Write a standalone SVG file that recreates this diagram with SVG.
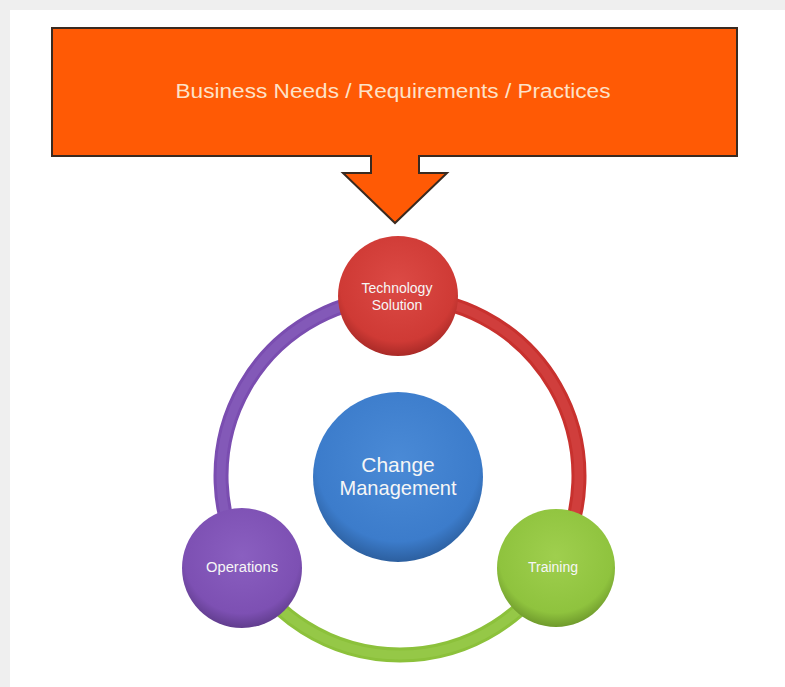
<svg xmlns="http://www.w3.org/2000/svg" width="785" height="687" viewBox="0 0 785 687">
  <style>
    .lbl { font-family: "Liberation Sans", Arial, sans-serif; fill: #f6f6f6; text-anchor: middle; }
    .big { font-size: 21px; }
    .small { font-size: 14px; }
    .title { font-family: "Liberation Sans", Arial, sans-serif; font-size: 20px; fill: #fde2c8; text-anchor: middle; }
    .ring { fill: none; stroke-width: 15; }
    .ringhl { fill: none; stroke-width: 9; opacity: 0.35; }
  </style>
  <defs>
    <radialGradient id="gRed" cx="50%" cy="40%" r="60%">
      <stop offset="0%" stop-color="#dc4a45"/>
      <stop offset="80%" stop-color="#cf3a35"/>
      <stop offset="100%" stop-color="#a92a27"/>
    </radialGradient>
    <radialGradient id="gPurple" cx="50%" cy="40%" r="60%">
      <stop offset="0%" stop-color="#8a5fc0"/>
      <stop offset="80%" stop-color="#7d50b3"/>
      <stop offset="100%" stop-color="#613d8e"/>
    </radialGradient>
    <radialGradient id="gGreen" cx="50%" cy="40%" r="60%">
      <stop offset="0%" stop-color="#9fcf4e"/>
      <stop offset="80%" stop-color="#8fc33e"/>
      <stop offset="100%" stop-color="#6f9a2c"/>
    </radialGradient>
    <radialGradient id="gBlue" cx="50%" cy="40%" r="60%">
      <stop offset="0%" stop-color="#4a8ad6"/>
      <stop offset="80%" stop-color="#3c7ccb"/>
      <stop offset="100%" stop-color="#2c5f9f"/>
    </radialGradient>
  </defs>

  <!-- page background -->
  <rect x="0" y="0" width="785" height="687" fill="#efefef"/>
  <rect x="10" y="10" width="775" height="677" fill="#ffffff"/>

  <!-- banner with arrow -->
  <g id="banner">
    <path d="M52,28 H737 V156 H419 V173 H447 L395,223 L343,173 H371 V156 H52 Z" fill="#ff5a05" stroke="#3a2a20" stroke-width="2" stroke-linejoin="miter"/>
    <text class="title" x="393" y="98" textLength="435" lengthAdjust="spacingAndGlyphs">Business Needs / Requirements / Practices</text>
  </g>

  <!-- connectors: ring segments -->
  <g id="connectors">
    <path class="ring" stroke="#c8312e" d="M400,297 A179,179 0 0 1 555,565.5"/>
    <path class="ring" stroke="#8cc13b" d="M555,565.5 A179,179 0 0 1 245,565.5"/>
    <path class="ring" stroke="#7a4db0" d="M245,565.5 A179,179 0 0 1 400,297"/>
    <path class="ringhl" stroke="#e05a55" d="M400,297 A179,179 0 0 1 555,565.5"/>
    <path class="ringhl" stroke="#a6d65e" d="M555,565.5 A179,179 0 0 1 245,565.5"/>
    <path class="ringhl" stroke="#9470c8" d="M245,565.5 A179,179 0 0 1 400,297"/>
  </g>

  <g id="change-management">
    <circle cx="398" cy="477" r="85" fill="url(#gBlue)"/>
    <text class="lbl big" x="398" y="472">Change</text>
    <text class="lbl big" x="398" y="495" textLength="117" lengthAdjust="spacingAndGlyphs">Management</text>
  </g>

  <g id="technology-solution">
    <circle cx="398" cy="296" r="60" fill="url(#gRed)"/>
    <text class="lbl small" x="397" y="293">Technology</text>
    <text class="lbl small" x="397" y="310">Solution</text>
  </g>

  <g id="operations">
    <circle cx="242" cy="568" r="60" fill="url(#gPurple)"/>
    <text class="lbl small" x="242" y="572" textLength="72" lengthAdjust="spacingAndGlyphs">Operations</text>
  </g>

  <g id="training">
    <circle cx="556" cy="568" r="59" fill="url(#gGreen)"/>
    <text class="lbl small" x="553" y="572">Training</text>
  </g>
</svg>
